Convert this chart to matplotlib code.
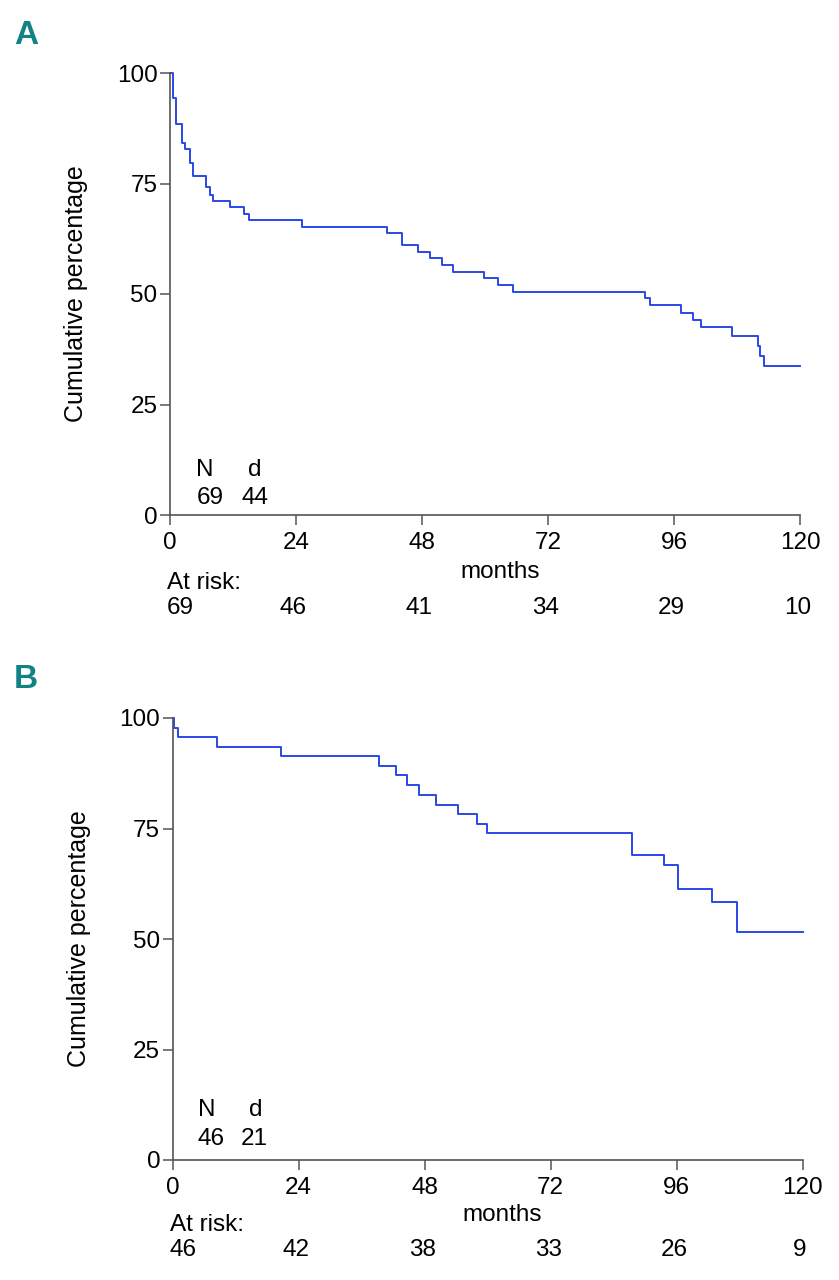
#!/usr/bin/env python3
"""
Kaplan-Meier curves, panels A and B, with numbers at risk
"""

import numpy as np
import matplotlib
matplotlib.use('Agg')
import matplotlib.pyplot as plt

plt.rcParams['font.family'] = ['Liberation Sans', 'DejaVu Sans']

# Panel A: step times (months) and cumulative percentage after each step
A_time = [0, 0.6, 1.1, 2.2, 2.9, 3.8, 4.3, 6.8, 7.6, 8.1, 11.4, 14.1, 15.1,
          25.1, 41.3, 44.1, 47.2, 49.5, 51.8, 54.0, 59.9, 62.4, 65.3,
          90.5, 91.4, 97.4, 99.6, 101.2, 107.1, 112.0, 112.4, 113.2]
A_surv = [100, 94.4, 88.5, 84.2, 82.7, 79.7, 76.8, 74.1, 72.5, 71.0, 69.6, 68.1, 66.7,
          65.2, 63.8, 61.0, 59.4, 58.1, 56.6, 55.0, 53.7, 52.1, 50.5,
          49.1, 47.4, 45.6, 44.1, 42.5, 40.6, 38.2, 35.9, 33.8]
A_N, A_d = 69, 44
A_risk = [69, 46, 41, 34, 29, 10]

# Panel B
B_time = [0, 0.2, 1.0, 8.5, 20.7, 39.2, 42.6, 44.6, 47.0, 50.2, 54.4, 57.9,
          59.8, 87.4, 93.6, 96.2, 102.7, 107.5]
B_surv = [100, 97.8, 95.6, 93.5, 91.3, 89.1, 87.0, 84.8, 82.6, 80.4, 78.3, 76.1,
          73.9, 69.0, 66.7, 61.4, 58.3, 51.5]
B_N, B_d = 46, 21
B_risk = [46, 42, 38, 33, 26, 9]

risk_months = [0, 24, 48, 72, 96, 120]
end_month = 120

line_col = '#2a48e4'
teal = '#138284'
W, H = 839, 1280
FS = 17.5

fig = plt.figure(figsize=(W / 100, H / 100), dpi=100)


def panel(box, letter, letter_xy, times, surv, n, d, risk, nd_pos, offs):
    ax = fig.add_axes(box)
    t = np.append(times, end_month)
    s = np.append(surv, surv[-1])
    ax.step(t, s, where='post', color=line_col, linewidth=1.4, clip_on=False)
    ax.set_xlim(0, 120)
    ax.set_ylim(0, 100)
    ax.set_xticks(risk_months)
    ax.set_yticks([0, 25, 50, 75, 100])
    for sp in ['top', 'right']:
        ax.spines[sp].set_visible(False)
    for sp in ['left', 'bottom']:
        ax.spines[sp].set_color('#555555')
        ax.spines[sp].set_linewidth(1.2)
    ax.tick_params(axis='both', direction='out', length=7, width=1.1,
                   color='#555555', labelsize=FS)
    ax.tick_params(axis='y', pad=2)
    ax.tick_params(axis='x', pad=5)
    ax.set_ylabel('Cumulative percentage', fontsize=18)
    ax.yaxis.set_label_coords(-0.13, 0.5)

    # N / d box inside the plot
    (nx, dx, ty, n_x, d_x, by) = nd_pos
    ax.text(nx, ty, 'N', fontsize=FS, ha='center', va='center')
    ax.text(dx, ty, 'd', fontsize=FS, ha='center', va='center')
    ax.text(n_x, by, str(n), fontsize=FS, ha='center', va='center')
    ax.text(d_x, by, str(d), fontsize=FS, ha='center', va='center')

    # labels below the axis, offsets in pixels
    months_off, atrisk_off, nums_off = offs
    ax.annotate('months', xy=(62.8, 0), xytext=(0, -months_off),
                textcoords='offset pixels', ha='center', va='center',
                fontsize=FS, annotation_clip=False)
    ax.annotate('At risk:', xy=(-0.6, 0), xytext=(0, -atrisk_off),
                textcoords='offset pixels', ha='left', va='center',
                fontsize=FS, annotation_clip=False)
    for i, (m, r) in enumerate(zip(risk_months, risk)):
        if i == 0:
            ax.annotate(str(r), xy=(-0.6, 0), xytext=(0, -nums_off),
                        textcoords='offset pixels', ha='left', va='center',
                        fontsize=FS, annotation_clip=False)
        else:
            ax.annotate(str(r), xy=(m - 0.5, 0), xytext=(0, -nums_off),
                        textcoords='offset pixels', ha='center', va='center',
                        fontsize=FS, annotation_clip=False)

    fig.text(letter_xy[0] / W, 1 - letter_xy[1] / H, letter, fontsize=24,
             fontweight='bold', color=teal, ha='center', va='center')
    return ax


panel([170 / W, 1 - 515 / H, 630 / W, 442 / H], 'A', (26, 35),
      A_time, A_surv, A_N, A_d, A_risk,
      (6.7, 16.1, 10.1, 7.6, 16.1, 3.85), (57, 68, 93))
panel([172.7 / W, 1 - 1160 / H, 630 / W, 442 / H], 'B', (26, 680),
      B_time, B_surv, B_N, B_d, B_risk,
      (6.5, 15.9, 11.3, 7.3, 15.5, 4.75), (55, 65, 90))

plt.savefig('out.png', dpi=100)
print("saved out.png")
